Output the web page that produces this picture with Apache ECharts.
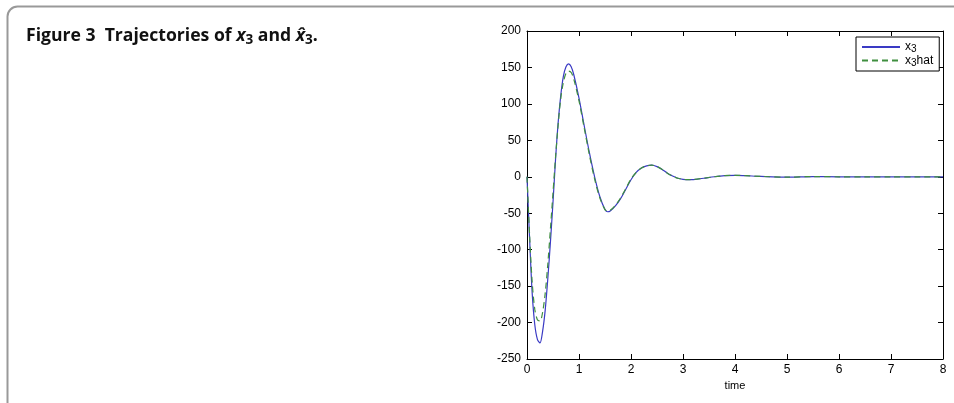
<!DOCTYPE html>
<html>
<head>
<meta charset="utf-8">
<script src="https://cdn.jsdelivr.net/npm/echarts@6/dist/echarts.min.js"></script>
<style>
  html, body { margin: 0; padding: 0; background: #fff; }
  #chart { width: 954px; height: 403px; }
</style>
</head>
<body>
<div id="chart"></div>
<script>
// time samples and the two trajectories
const time = [0, 0.05, 0.1, 0.15, 0.2, 0.25, 0.3, 0.35, 0.4, 0.45,
  0.5, 0.55, 0.6, 0.65, 0.7, 0.75, 0.8, 0.85, 0.9, 1.0,
  1.1, 1.2, 1.3, 1.4, 1.5, 1.55, 1.6, 1.7, 1.8, 1.9,
  2.0, 2.1, 2.2, 2.3, 2.4, 2.5, 2.6, 2.7, 2.8, 2.9,
  3.0, 3.1, 3.2, 3.4, 3.6, 3.8, 4.0, 4.2, 4.5, 5.0,
  5.5, 6.0, 6.5, 7.0, 7.5, 8.0];
const x3 = [0, -85, -160, -203, -223, -228, -212, -183, -140, -90,
  -35, 25, 75, 112, 138, 151, 155, 151, 140, 108,
  70, 33, 0, -27, -45, -48, -47, -40, -30, -17,
  -4, 6, 12, 15, 16, 14, 10, 5, 1, -2,
  -3.5, -4, -3.8, -2, 0, 1.5, 2, 1.5, 0.5, -0.5,
  0.3, 0, 0, 0, 0, 0];
const x3hat = [0, -80, -145, -182, -196, -198, -186, -160, -120, -72,
  -22, 28, 72, 108, 130, 142, 145, 143, 134, 104,
  67, 30, -3, -29, -45, -47, -46, -39, -29, -16,
  -3, 6, 12, 15, 16, 14, 10, 5, 1, -2,
  -3.5, -4, -3.8, -2, 0, 1.5, 2, 1.5, 0.5, -0.5,
  0.3, 0, 0, 0, 0, 0];
const xTicks = [0, 1, 2, 3, 4, 5, 6, 7, 8];
const yTicks = [-250, -200, -150, -100, -50, 0, 50, 100, 150, 200];

const chart = echarts.init(document.getElementById('chart'));
const axisFont = { fontFamily: 'Liberation Sans', fontSize: 12, color: '#000' };
const boxLine = { show: true, onZero: false, lineStyle: { color: '#000', width: 1 } };
const boxTick = { show: true, inside: true, length: 5, lineStyle: { color: '#000' } };

const option = {
  animation: false,
  backgroundColor: '#fff',
  graphic: [{
    type: 'rect',
    shape: { x: 7.5, y: 6.5, width: 980, height: 430, r: 10 },
    style: { fill: 'none', stroke: '#999', lineWidth: 2 },
    silent: true
  }],
  title: {
    left: 21,
    top: 20,
    text: '{b|Figure 3  Trajectories of }{i|x}{s|3}{b| and }{i|x\u0302}{s|3}{b|.}',
    textStyle: {
      rich: {
        b: { fontFamily: 'Open Sans', fontWeight: 'bold', fontSize: 17.6, color: '#111', lineHeight: 22 },
        i: { fontFamily: 'Open Sans', fontWeight: 'bold', fontStyle: 'italic', fontSize: 17.6, color: '#111', lineHeight: 22 },
        s: { fontFamily: 'Open Sans', fontWeight: 'bold', fontSize: 13.5, color: '#111', lineHeight: 16, verticalAlign: 'bottom' }
      }
    }
  },
  legend: {
    left: 856,
    top: 37,
    orient: 'vertical',
    backgroundColor: '#fff',
    borderColor: '#000',
    borderWidth: 1,
    borderRadius: 0,
    padding: [4, 6, 3, 5],
    itemGap: 0,
    itemWidth: 38,
    itemHeight: 12,
    itemStyle: { opacity: 0 },
    data: ['x3', 'x3hat'],
    formatter: function (name) {
      return name === 'x3' ? '{a|x}{s|3}' : '{a|x}{s|3}{a|hat}';
    },
    textStyle: {
      rich: {
        a: { fontFamily: 'Liberation Sans', fontSize: 12, color: '#000', lineHeight: 15 },
        s: { fontFamily: 'Liberation Sans', fontSize: 10, color: '#000', lineHeight: 8, verticalAlign: 'bottom' }
      }
    }
  },
  grid: { left: 527, top: 31, right: 11, bottom: 44 },
  xAxis: [{
    type: 'value',
    min: xTicks[0],
    max: xTicks[xTicks.length - 1],
    interval: 1,
    name: 'time',
    nameLocation: 'middle',
    nameGap: 21,
    nameTextStyle: { fontFamily: 'Liberation Sans', fontSize: 11, color: '#000' },
    axisLine: boxLine,
    axisTick: boxTick,
    axisLabel: Object.assign({ margin: 5 }, axisFont),
    splitLine: { show: false }
  }, {
    type: 'value',
    position: 'top',
    min: xTicks[0],
    max: xTicks[xTicks.length - 1],
    interval: 1,
    axisLine: boxLine,
    axisTick: boxTick,
    axisLabel: { show: false },
    splitLine: { show: false }
  }],
  yAxis: [{
    type: 'value',
    min: yTicks[0],
    max: yTicks[yTicks.length - 1],
    interval: 50,
    axisLine: boxLine,
    axisTick: boxTick,
    axisLabel: Object.assign({ margin: 6 }, axisFont),
    splitLine: { show: false }
  }, {
    type: 'value',
    position: 'right',
    min: yTicks[0],
    max: yTicks[yTicks.length - 1],
    interval: 50,
    axisLine: boxLine,
    axisTick: boxTick,
    axisLabel: { show: false },
    splitLine: { show: false }
  }],
  series: [{
    name: 'x3',
    type: 'line',
    data: time.map((t, i) => [t, x3[i]]),
    smooth: 0.3,
    symbol: 'none',
    lineStyle: { color: '#3a3ac4', width: 1.2 },
    itemStyle: { color: '#3a3ac4' },
    z: 3
  }, {
    name: 'x3hat',
    type: 'line',
    data: time.map((t, i) => [t, x3hat[i]]),
    smooth: 0.3,
    symbol: 'none',
    lineStyle: { color: '#3f8f3f', width: 1.2, type: [6, 4] },
    itemStyle: { color: '#3f8f3f' },
    z: 4
  }]
};
chart.setOption(option);
</script>
</body>
</html>
